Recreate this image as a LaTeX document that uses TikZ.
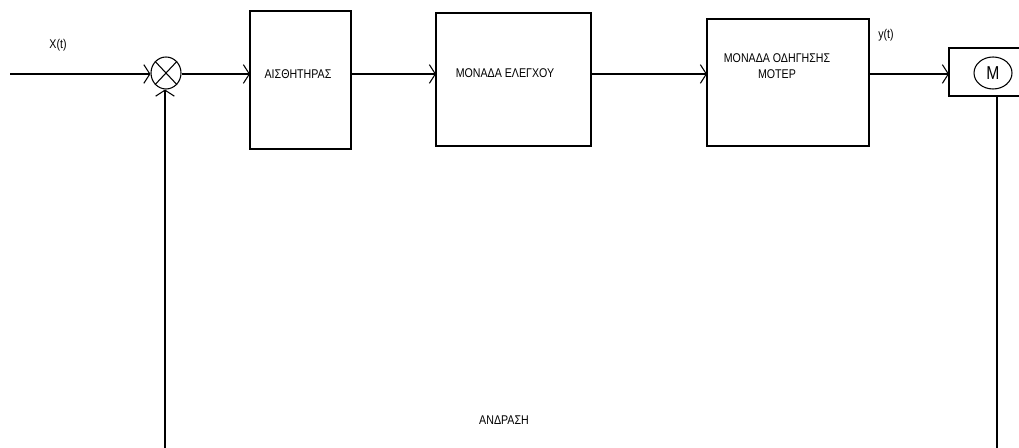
\documentclass[tikz,border=0pt]{standalone}
\usepackage{fontspec}
\setmainfont{Liberation Sans}[FakeStretch=0.84]
\usetikzlibrary{arrows.meta,shapes.geometric,positioning}

\tikzset{
  blk/.style={draw, rectangle, inner sep=0pt, outer sep=0pt},
  lbl/.style={font=\fontsize{9.5}{12.5}\selectfont, align=center, inner sep=0pt},
  arr/.style={-{Straight Barb[length=4.5pt,width=14pt]}},
}

\begin{document}
\begin{tikzpicture}[x=0.75pt, y=-0.75pt, line width=0.8pt]
  % Frame
  \clip (0, 0) rectangle (1019, 448);

  % Summing point
  \node[draw, ellipse, minimum width=22.5pt, minimum height=24pt, inner sep=0pt] (sum) at (166, 73) {};
  \draw (sum.north west) -- (sum.south east);
  \draw (sum.north east) -- (sum.south west);

  % Blocks
  \node[blk, minimum width=75.75pt, minimum height=103.5pt] (sensor) at (300.5, 80) {};
  \node[blk, minimum width=116.25pt, minimum height=99.75pt] (ctrl) at (513.5, 79.5) {};
  \node[blk, minimum width=121.5pt, minimum height=95.25pt] (drive) at (788, 82.5) {};
  \node[blk, minimum width=72pt, minimum height=36pt] (motor) at (997, 72) {};
  \node[draw, ellipse, minimum width=28.5pt, minimum height=24pt, inner sep=0pt,
        font=\fontsize{14}{14}\selectfont] (mot) at (993, 73) {M};

  % Block texts
  \node[lbl] (sensortxt) at (298, 74) {ΑΙΣΘΗΤΗΡΑΣ};
  \node[lbl] (ctrltxt) at (505, 73) {ΜΟΝΑΔΑ ΕΛΕΓΧΟΥ};
  \node[lbl] (drivetxt) at (777, 66) {ΜΟΝΑΔΑ ΟΔΗΓΗΣΗΣ\\ΜΟΤΕΡ};

  % Signals
  \node[lbl] (xlbl) at (58, 45) {X(t)};
  \node[lbl] (ylbl) at (886, 35) {y(t)};
  \node[lbl] (fbklbl) at (504, 420) {ΑΝΔΡΑΣΗ};

  % Forward path
  \coordinate (xin) at (10, 74);
  \draw[arr] (xin) -- (sum.west |- xin);
  \draw[arr] (sum.east |- xin) -- (sensor.west |- xin);
  \draw[arr] (sensor.east |- xin) -- (ctrl.west |- xin);
  \draw[arr] (ctrl.east |- xin) -- (drive.west |- xin);
  \draw[arr] (drive.east |- xin) -- (motor.west |- xin);

  % Feedback
  \coordinate (mout) at (997, 448);
  \coordinate (fbk) at (165, 448);
  \draw (motor.south) -- (mout);
  \draw[arr] (fbk) -- (sum.south -| fbk);
\end{tikzpicture}
\end{document}
